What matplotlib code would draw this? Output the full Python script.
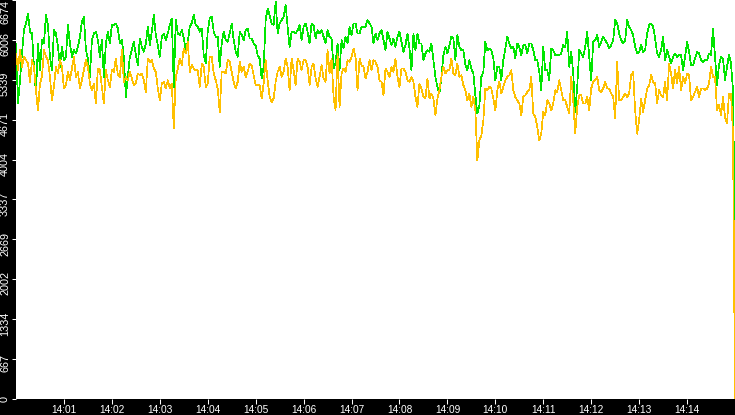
import numpy as np
import matplotlib
matplotlib.use("Agg")
import matplotlib.pyplot as plt
import matplotlib.dates as mdates
from matplotlib.transforms import offset_copy

plt.rcParams['font.family'] = ['Liberation Sans', 'DejaVu Sans']

# una muestra cada 2.5 s, de 14:00:00 a 14:15:00
start = np.datetime64("2024-01-01T14:00:00")
step_ms = 2500

green_vals = [
    5947, 4941, 5332, 5780, 6171, 6283, 6450, 6143, 6115, 5556, 5109, 5947, 5500, 6003, 5947,
    6422, 6255, 5724, 5500, 6171, 6115, 5891, 5556, 5891, 5668, 5724, 6255, 5947, 5724, 5836,
    5780, 5891, 6059, 6311, 6395, 5836, 5696, 5388, 6003, 6115, 6143, 6003, 5724, 6003, 5388,
    5947, 6143, 5947, 6255, 6255, 6283, 6199, 5947, 6003, 5724, 5053, 5388, 5724, 5836, 5975,
    5752, 5584, 6031, 5891, 5808, 5947, 6227, 5919, 6143, 6422, 6087, 5919, 5724, 6059, 6115,
    6003, 6115, 6255, 6367, 5221, 6339, 6115, 6087, 6171, 6031, 5836, 5975, 6227, 6283, 6422,
    6255, 6227, 6143, 6199, 5752, 5612, 6143, 6367, 6395, 6143, 6059, 6059, 5556, 5947, 6143,
    6003, 5975, 6115, 6283, 6003, 5808, 5724, 6143, 6087, 6003, 6171, 6199, 6031, 6031, 5947,
    5919, 5752, 5696, 5360, 5556, 6339, 6534, 6422, 6283, 6255, 6646, 6115, 6283, 6339, 6395,
    6590, 6227, 5891, 6143, 6143, 6115, 6171, 6255, 6003, 6227, 6283, 6143, 5947, 6283, 6255,
    6031, 6171, 6115, 6171, 6059, 5947, 6171, 6059, 6031, 5528, 5612, 5947, 5500, 6003, 5863,
    6059, 5947, 6227, 6087, 6283, 6283, 6115, 6115, 6227, 6227, 6227, 6339, 6283, 6227, 5947,
    6115, 6003, 6115, 6171, 6003, 5836, 6143, 6031, 5919, 6031, 5891, 6059, 6143, 5975, 5808,
    5919, 6115, 5863, 5500, 6115, 5836, 6115, 5947, 5947, 5668, 5780, 5836, 5808, 5947, 5668,
    5388, 5221, 5109, 5388, 5752, 5891, 5780, 5919, 6059, 6031, 5668, 6087, 5891, 5836, 5836,
    5584, 5500, 5668, 5528, 5444, 5081, 4773, 4913, 5388, 5472, 5975, 5836, 5863, 5836, 5696,
    5332, 5556, 5556, 5332, 5668, 5863, 6059, 5947, 5863, 5891, 5696, 5947, 5891, 5752, 5919,
    5919, 5780, 5947, 5947, 5836, 5668, 5668, 5472, 5165, 5891, 5500, 5500, 5332, 5863, 5836,
    5752, 5752, 5752, 5780, 5919, 5891, 6143, 5556, 5808, 5444, 4801, 5221, 5836, 5780, 5724,
    5891, 6143, 5724, 5332, 5975, 6003, 6087, 5891, 5975, 6059, 6003, 5947, 5863, 5919, 6003,
    6339, 6283, 6115, 6003, 5947, 6003, 6339, 6227, 6171, 6087, 5891, 5780, 5808, 5919, 5808,
    5836, 6115, 6255, 6283, 6227, 6031, 5780, 5724, 5836, 6059, 5668, 5836, 5724, 5612, 5724,
    5780, 5724, 5752, 5752, 5500, 5724, 5975, 5808, 5584, 5584, 5696, 5808, 5780, 5668, 5640,
    5668, 5668, 5780, 5752, 6199, 5724, 5249, 5584, 5724, 5696, 5332, 5556, 5752, 5612, 5165,
    2565,
]

amber_vals = [
    5780, 5500, 5836, 5556, 5724, 5668, 5612, 5304, 5668, 5556, 5165, 4829, 5277, 5388, 5836,
    5724, 5668, 5388, 4997, 5221, 5556, 5444, 5668, 5556, 5193, 5249, 5472, 5332, 5528, 5724,
    5388, 5472, 5193, 5332, 5500, 5668, 5556, 5277, 5165, 5277, 4941, 5528, 5500, 5221, 4941,
    5500, 5332, 5221, 5500, 5472, 5696, 5416, 5388, 5836, 5304, 5388, 5332, 5472, 5360, 5249,
    5277, 5444, 5416, 5444, 5332, 5137, 5696, 5640, 5668, 5528, 5472, 5193, 4997, 5277, 5304,
    5193, 5332, 5193, 5277, 4522, 5388, 5528, 5696, 5584, 5863, 5780, 5975, 5472, 5584, 5528,
    5500, 5500, 5221, 5612, 5556, 5221, 5277, 5724, 5724, 5444, 5332, 5193, 4801, 5472, 5472,
    5444, 5668, 5640, 5472, 5304, 5193, 5304, 5640, 5472, 5556, 5388, 5472, 5612, 5584, 5416,
    5249, 5249, 5249, 5025, 5277, 5668, 5332, 5053, 4969, 5025, 5304, 5472, 5556, 5388, 5472,
    5696, 5556, 5165, 5696, 5500, 5249, 5696, 5640, 5500, 5668, 5668, 5556, 5249, 5556, 5612,
    5360, 5221, 5388, 5584, 5360, 5304, 5836, 5444, 5696, 5053, 4829, 5780, 4885, 5444, 5528,
    5472, 5668, 5640, 5724, 5863, 5724, 5165, 5696, 5584, 5556, 5360, 5472, 5668, 5500, 5668,
    5640, 5556, 5332, 5304, 5081, 5528, 5472, 5388, 5556, 5472, 5696, 5388, 5221, 5528, 5528,
    5472, 5332, 5304, 5388, 5304, 5053, 4885, 5277, 5193, 5053, 5025, 5360, 5025, 5109, 5025,
    4745, 5025, 5165, 5388, 5556, 5444, 5500, 5500, 5696, 5444, 5416, 5612, 5388, 5416, 5249,
    5165, 4997, 5109, 4885, 5053, 4829, 3991, 4326, 4410, 4662, 5193, 5165, 5221, 5193, 5025,
    4829, 5165, 5304, 5109, 5221, 5332, 5388, 5416, 5500, 5165, 5053, 4997, 4941, 4745, 5053,
    5081, 5137, 5165, 5388, 4773, 4718, 4550, 4326, 4438, 4801, 4745, 4997, 4941, 4829, 4941,
    5165, 5137, 5332, 5165, 4997, 4997, 4885, 4773, 5388, 4997, 4438, 4885, 5081, 5081, 4941,
    4941, 5053, 4829, 5193, 5304, 5332, 5388, 5165, 5137, 5193, 5304, 5193, 5193, 5109, 5053,
    4690, 5640, 4997, 4997, 5053, 5109, 5053, 5109, 5416, 5472, 4829, 4438, 4662, 5025, 4801,
    4997, 5193, 5249, 5416, 5304, 5277, 4941, 5165, 5081, 5053, 5304, 4997, 5612, 5444, 5193,
    5500, 5277, 5556, 5165, 5388, 5277, 5444, 5416, 4997, 5053, 5137, 5221, 5053, 5193, 5193,
    5165, 5193, 5277, 5556, 5388, 5388, 4829, 4913, 4745, 5053, 4718, 4606, 5109, 5109, 4438,
    0,
]

ytick_vals = [0, 667, 1334, 2002, 2669, 3337, 4004, 4671, 5339, 6006, 6674]
y_top = 6674

times = start + np.arange(len(green_vals)) * np.timedelta64(step_ms, "ms")

fig = plt.figure(figsize=(7.35, 4.15), dpi=100, facecolor='black')
ax = fig.add_axes([16 / 735, 16 / 415, 719 / 735, 399 / 415])
ax.set_facecolor('white')

ax.plot(times, green_vals, color='#00e600', lw=0.5, antialiased=False)
ax.plot(times, amber_vals, color='#ffc000', lw=0.5, antialiased=False)

ax.set_xlim(start, start + np.timedelta64(15, 'm'))
ax.set_ylim(0, y_top)

for s in ax.spines.values():
    s.set_visible(False)

ax.xaxis.set_major_locator(mdates.MinuteLocator(byminute=range(1, 15)))
ax.xaxis.set_major_formatter(mdates.DateFormatter('%H:%M'))
ax.tick_params(axis='x', colors='white', direction='out', length=3.4, width=0.75,
               labelsize=7.3, pad=0.8)

ax.set_yticks(ytick_vals)
ax.tick_params(axis='y', colors='white', direction='out', length=2.9, width=0.75,
               labelleft=False)

# etiquetas del eje y giradas, un poco por debajo de su marca
ytr = ax.get_yaxis_transform()
for i, v in enumerate(ytick_vals):
    if i == len(ytick_vals) - 1:
        va, dy = 'top', 0
    elif i == 0:
        va, dy = 'center', 0
    else:
        va, dy = 'center', -3
    tr = offset_copy(ytr, fig=fig, x=-4.3, y=dy, units='points')
    ax.text(0, v, str(v), transform=tr, rotation=90, ha='right', va=va,
            color='white', fontsize=7.8)

fig.savefig('out.png', dpi=100, facecolor='black')
